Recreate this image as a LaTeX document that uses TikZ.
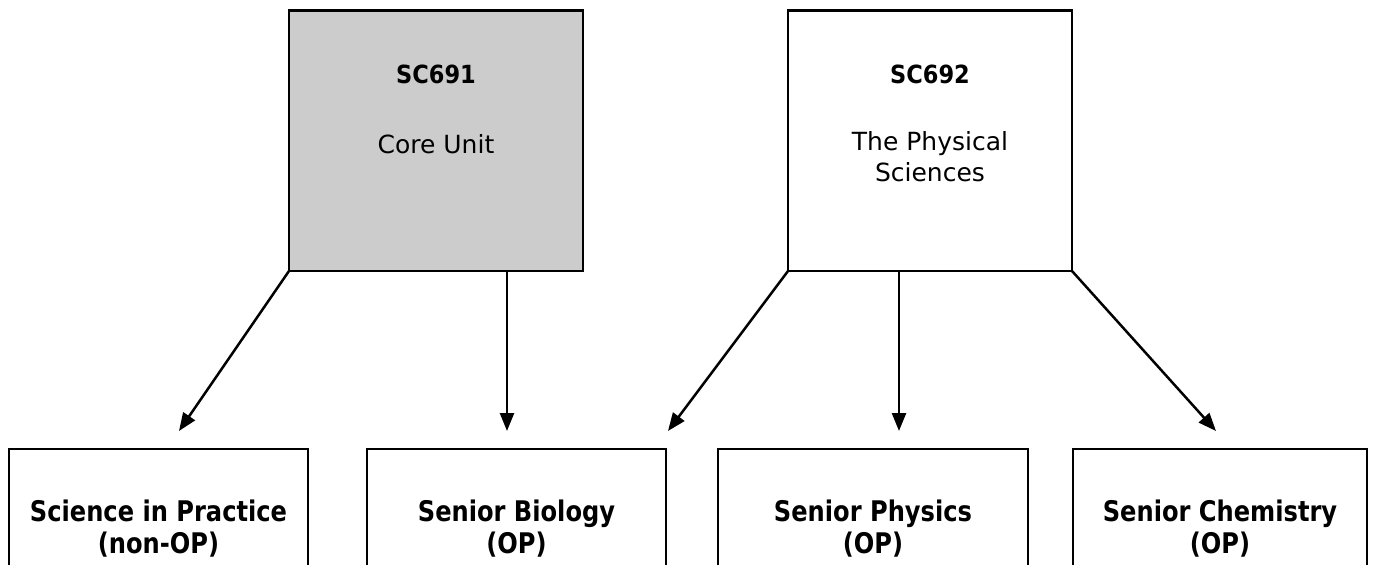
\documentclass[tikz,border=0pt]{standalone}
\usepackage{fontspec}
\usetikzlibrary{arrows.meta}
\newfontfamily\regfont{DejaVu Sans}
\newfontfamily\topbold[FakeStretch=0.9]{DejaVu Sans Bold}
\newfontfamily\botbold[FakeStretch=0.85]{DejaVu Sans Bold}
\definecolor{boxgrey}{HTML}{CCCCCC}
\tikzset{
  unitbox/.style={draw=black, line width=2.8pt, rectangle, outer sep=0pt, inner sep=0pt, anchor=north west},
  toptitle/.style={anchor=base, inner sep=0pt, font=\topbold\fontsize{25}{30}\selectfont},
  toptext/.style={anchor=base, inner sep=0pt, font=\regfont\fontsize{25}{30}\selectfont},
  bottext/.style={anchor=base, inner sep=0pt, font=\botbold\fontsize{28.4}{34}\selectfont},
  link/.style={draw=black, line width=2.5pt, -{Triangle[length=18pt,width=14pt]}}
}
\begin{document}
\begin{tikzpicture}[x=1pt,y=-1pt]
\clip (0,0) rectangle (1374,565);
\fill[white] (0,0) rectangle (1374,565);
% top boxes
\node[unitbox, fill=boxgrey, minimum width=294pt, minimum height=260.5pt] (core) at (289,10.5) {};
\node[unitbox, fill=white, minimum width=284pt, minimum height=260.5pt] (phys) at (788,10.5) {};
% bottom boxes
\node[unitbox, minimum width=299pt, minimum height=160pt] (sip) at (9,449) {};
\node[unitbox, minimum width=299pt, minimum height=160pt] (bio) at (367,449) {};
\node[unitbox, minimum width=310pt, minimum height=160pt] (phy) at (718,449) {};
\node[unitbox, minimum width=294pt, minimum height=160pt] (chem) at (1073,449) {};
% texts
\node[toptitle] (t1a) at (436,83) {SC691};
\node[toptext] (t1b) at (436,153) {Core Unit};
\node[toptitle] (t2a) at (930,83) {SC692};
\node[toptext] (t2b) at (930,150) {The Physical};
\node[toptext] (t2c) at (930,181) {Sciences};
\node[bottext] (b1a) at (158.5,521.5) {Science in Practice};
\node[bottext] (b1b) at (158.5,553) {(non-OP)};
\node[bottext] (b2a) at (516.5,521.5) {Senior Biology};
\node[bottext] (b2b) at (516.5,553) {(OP)};
\node[bottext] (b3a) at (873,521.5) {Senior Physics};
\node[bottext] (b3b) at (873,553) {(OP)};
\node[bottext] (b4a) at (1220,521.5) {Senior Chemistry};
\node[bottext] (b4b) at (1220,553) {(OP)};
% arrow tips
\coordinate (p1) at (179,431);
\coordinate (p2) at (507,431);
\coordinate (p3) at (668,431);
\coordinate (p4) at (899,431);
\coordinate (p5) at (1216,431);
% connectors
\draw[link] (core.south west) -- (p1);
\draw[link] (p2 |- core.south) -- (p2);
\draw[link] (phys.south west) -- (p3);
\draw[link] (p4 |- phys.south) -- (p4);
\draw[link] (phys.south east) -- (p5);
\end{tikzpicture}
\end{document}
